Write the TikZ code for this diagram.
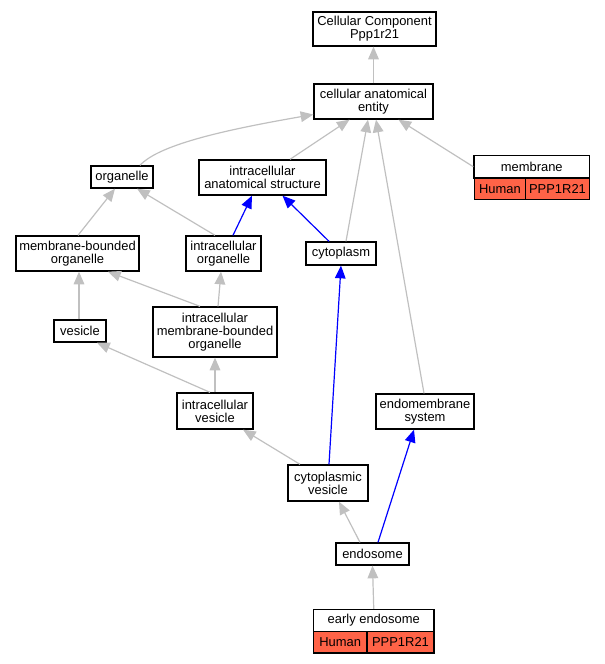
\documentclass[tikz,border=0pt]{standalone}
\usepackage{fontspec}
\setmainfont{Liberation Sans}
\usetikzlibrary{arrows.meta,calc}
\newdimen\pxu \pxu=0.75pt
\definecolor{edgegray}{RGB}{192,192,192}
\definecolor{hum}{RGB}{255,99,71}
\begin{document}
\begin{tikzpicture}[x=0.75pt,y=-0.75pt,
  box/.style={draw=black,line width=1pt,fill=white,inner sep=0pt,align=center,
    font=\fontsize{9.7}{9.6}\selectfont},
  redcell/.style={box,fill=hum},
  isa/.style={draw=edgegray,line width=0.9pt,-{Triangle[length=9.5pt,width=8pt]}},
  partof/.style={draw=blue,line width=0.9pt,-{Triangle[length=9.5pt,width=8pt]}}]
\useasboundingbox (0,0) rectangle (605,664);
% nodes
\node[box,minimum width=123\pxu,minimum height=34\pxu] (ccp) at (374.5,29) {Cellular Component\\Ppp1r21};
\node[box,minimum width=119\pxu,minimum height=35\pxu] (cae) at (373.5,101.5) {cellular anatomical\\entity};
\node[box,minimum width=62\pxu,minimum height=22\pxu] (org) at (122,177) {organelle};
\node[box,minimum width=127\pxu,minimum height=35\pxu] (ias) at (262.5,177.5) {intracellular\\anatomical structure};
\node[box,minimum width=115.5\pxu,minimum height=22.5\pxu] (memlab) at (531.75,166.75) {membrane};
\node[redcell,minimum width=51.5\pxu,minimum height=21.5\pxu] (memh) at (500,188.75) {Human};
\node[redcell,minimum width=64\pxu,minimum height=21.5\pxu] (memp) at (557.5,188.75) {PPP1R21};
\node[box,minimum width=123\pxu,minimum height=35\pxu] (mbo) at (77.5,253.5) {membrane-bounded\\organelle};
\node[box,minimum width=75\pxu,minimum height=35\pxu] (io) at (223.5,253.5) {intracellular\\organelle};
\node[box,minimum width=70\pxu,minimum height=23\pxu] (cyt) at (341,253.5) {cytoplasm};
\node[box,minimum width=52\pxu,minimum height=22\pxu] (ves) at (80,331) {vesicle};
\node[box,minimum width=124\pxu,minimum height=50\pxu] (imbo) at (215,332) {intracellular\\membrane-bounded\\organelle};
\node[box,minimum width=76\pxu,minimum height=36\pxu] (iv) at (215,411) {intracellular\\vesicle};
\node[box,minimum width=98\pxu,minimum height=35\pxu] (ems) at (425,411.5) {endomembrane\\system};
\node[box,minimum width=80\pxu,minimum height=36\pxu] (cv) at (328,483) {cytoplasmic\\vesicle};
\node[box,minimum width=73\pxu,minimum height=22\pxu] (endo) at (372.5,554) {endosome};
\node[box,minimum width=120.5\pxu,minimum height=22\pxu] (eelab) at (373.75,620.5) {early endosome};
\node[redcell,minimum width=53.5\pxu,minimum height=21.5\pxu] (eeh) at (340.25,642.25) {Human};
\node[redcell,minimum width=67\pxu,minimum height=21.5\pxu] (eep) at (400.5,642.25) {PPP1R21};
% edges
\draw[isa] (cae.north) -- (cae.north |- ccp.south);
\draw[isa] ($(org.north)+(18,0)$) .. controls +(20,-22) and +(-80,14) .. ($(cae.west)+(0,13)$);
\draw[isa] ($(ias.north)+(27.5,0)$) -- ($(cae.south)+(-24,0)$);
\draw[isa] ($(cyt.north)+(5,0)$) -- ($(cae.south)+(-5.5,0)$);
\draw[isa] ($(ems.north)+(-1,0)$) -- ($(cae.south)+(2.5,0)$);
\draw[isa] (memlab.west) -- ($(cae.south)+(25,0)$);
\draw[isa] ($(mbo.north)+(0.5,0)$) -- ($(org.south)+(-7,0)$);
\draw[isa] ($(io.north)+(-8.5,0)$) -- ($(org.south)+(15,0)$);
\draw[partof] ($(io.north)+(9.5,0)$) -- ($(ias.south)+(-10.5,0)$);
\draw[partof] ($(cyt.north)+(-12,0)$) -- ($(ias.south)+(20,0)$);
\draw[isa] ($(ves.north)+(-1,0)$) -- ($(mbo.south)+(1.5,0)$);
\draw[isa] ($(imbo.north)+(-15,0)$) -- ($(mbo.south)+(30.5,0)$);
\draw[isa] ($(imbo.north)+(3,0)$) -- ($(io.south)+(-2.5,0)$);
\draw[isa] ($(iv.north)+(-5,0)$) -- ($(ves.south)+(17,0)$);
\draw[isa] (iv.north) -- (imbo.south);
\draw[isa] ($(cv.north)+(-28,0)$) -- ($(iv.south)+(28,0)$);
\draw[partof] ($(cv.north)+(1,0)$) -- (cyt.south);
\draw[isa] ($(endo.north)+(-12.5,0)$) -- ($(cv.south)+(11,0)$);
\draw[partof] ($(endo.north)+(5.5,0)$) -- ($(ems.south)+(-11,0)$);
\draw[isa] (eelab.north) -- (endo.south);
\end{tikzpicture}
\end{document}
